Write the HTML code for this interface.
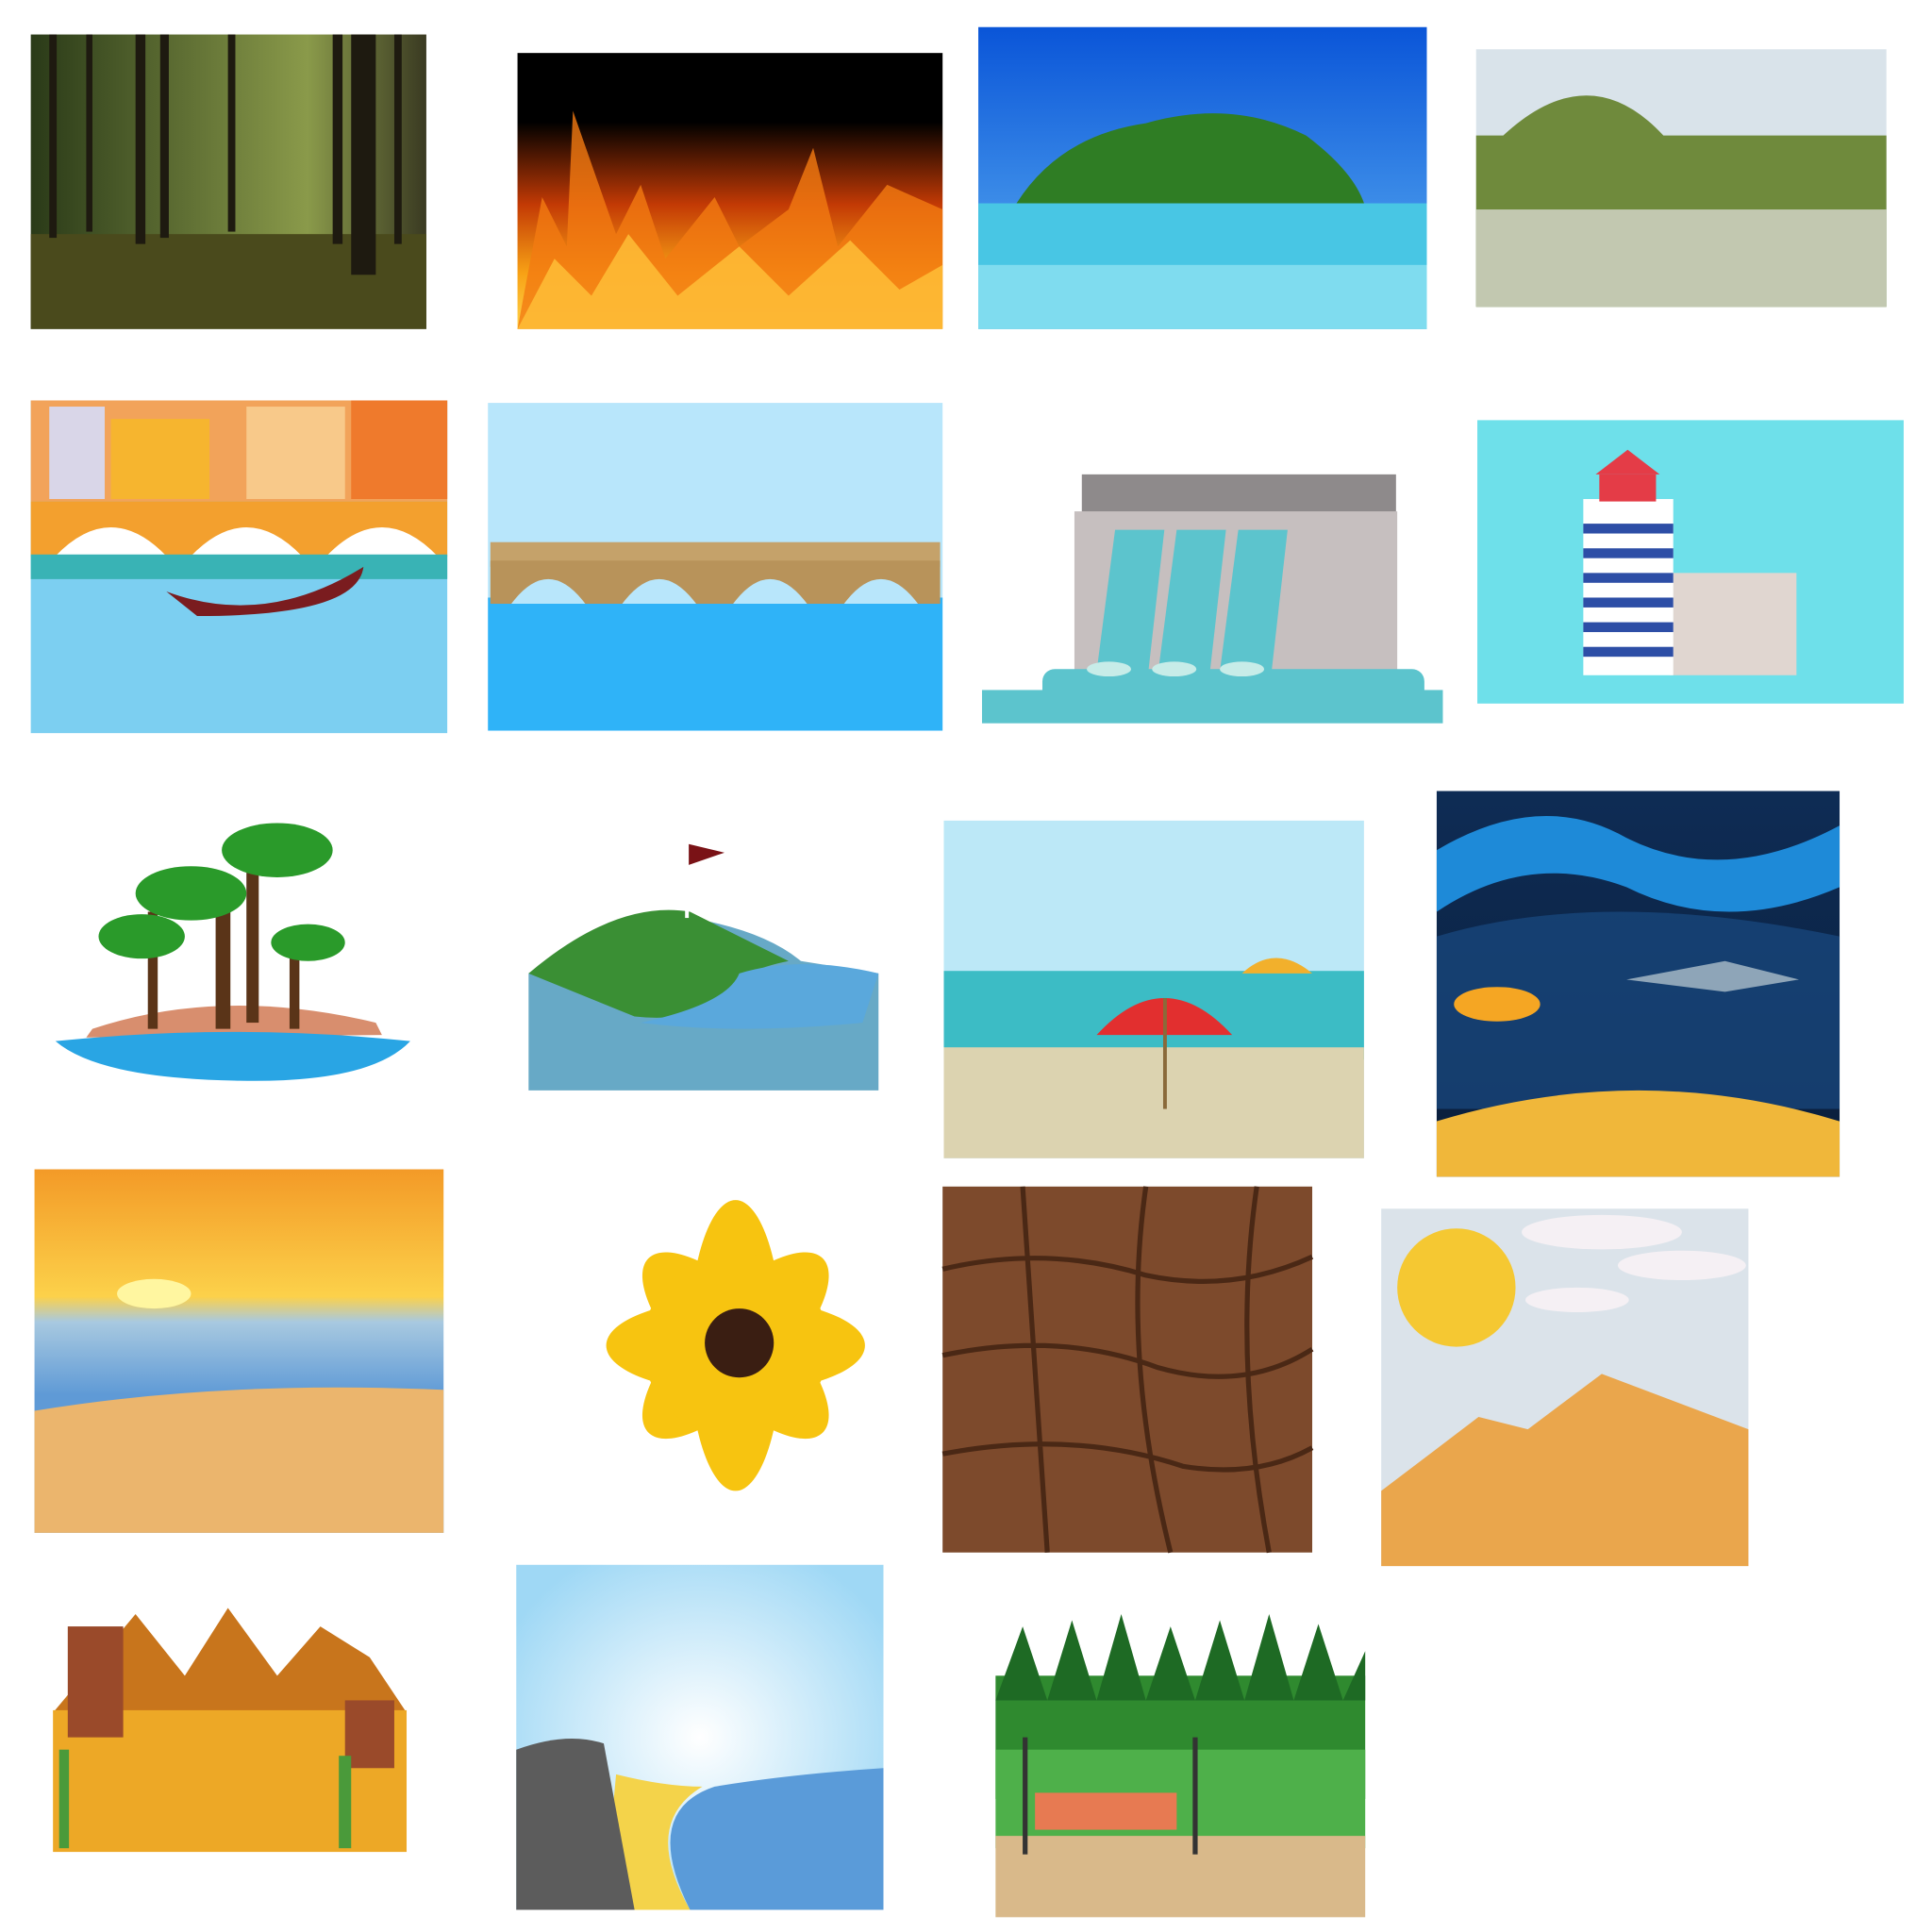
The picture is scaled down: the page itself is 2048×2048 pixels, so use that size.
<!DOCTYPE html>
<html><head><meta charset="utf-8"><style>
html,body{margin:0;padding:0;background:#fff;width:2048px;height:2048px;overflow:hidden;font-family:"Liberation Sans",sans-serif}
svg{display:block}
</style></head><body>
<svg width="2048" height="2048" viewBox="0 0 1568 1568" xmlns="http://www.w3.org/2000/svg">
<defs>
<linearGradient id="fireg" x1="0" y1="0" x2="0" y2="1"><stop offset="0.25" stop-color="#000"/><stop offset="0.55" stop-color="#c33a05"/><stop offset="0.8" stop-color="#f8a215"/><stop offset="1" stop-color="#ffd34a"/></linearGradient>
<linearGradient id="skyg" x1="0" y1="0" x2="0" y2="1"><stop offset="0" stop-color="#0a55d8"/><stop offset="1" stop-color="#5fb3f3"/></linearGradient>
<linearGradient id="forg" x1="0" y1="0" x2="1" y2="0"><stop offset="0" stop-color="#2a3a18"/><stop offset="0.7" stop-color="#8a9a4a"/><stop offset="1" stop-color="#3a3a22"/></linearGradient>
<linearGradient id="sung" x1="0" y1="0" x2="0" y2="1"><stop offset="0" stop-color="#f39a27"/><stop offset="0.35" stop-color="#fcd14a"/><stop offset="0.42" stop-color="#a8c9e0"/><stop offset="0.62" stop-color="#5f9ad6"/></linearGradient>
<radialGradient id="coastg" cx="0.5" cy="0.5" r="0.6"><stop offset="0" stop-color="#fff"/><stop offset="1" stop-color="#9fd8f5"/></radialGradient>
<linearGradient id="underg" x1="0" y1="0" x2="0" y2="1"><stop offset="0" stop-color="#0e2c55"/><stop offset="1" stop-color="#0a1e3a"/></linearGradient>
</defs>
<g>
<rect x="25" y="28" width="321" height="239" fill="url(#forg)"/>
<rect x="25" y="190" width="321" height="77" fill="#4a4a1c"/>
<g fill="#1e1a10"><rect x="40" y="28" width="6" height="165"/><rect x="70" y="28" width="5" height="160"/><rect x="110" y="28" width="8" height="170"/><rect x="130" y="28" width="7" height="165"/><rect x="185" y="28" width="6" height="160"/><rect x="270" y="28" width="8" height="170"/><rect x="285" y="28" width="20" height="195"/><rect x="320" y="28" width="6" height="170"/></g>
</g>
<g>
<rect x="420" y="43" width="345" height="224" fill="url(#fireg)"/>
<path d="M420 267 L440 160 L460 200 L465 90 L500 190 L520 150 L540 210 L580 160 L600 200 L640 170 L660 120 L680 200 L720 150 L765 170 L765 267Z" fill="#f27a12" opacity="0.8"/>
<path d="M420 267 L450 210 L480 240 L510 190 L550 240 L600 200 L640 240 L690 195 L730 235 L765 215 L765 267Z" fill="#ffc23a" opacity="0.8"/>
</g>
<g>
<rect x="794" y="22" width="364" height="245" fill="url(#skyg)"/>
<path d="M825 165 Q860 110 930 100 Q1000 80 1060 110 Q1100 140 1108 168Z" fill="#2f7d24"/>
<rect x="794" y="165" width="364" height="102" fill="#48c6e4"/>
<rect x="794" y="215" width="364" height="52" fill="#7fdcef"/>
</g>
<g>
<rect x="1198" y="40" width="333" height="209" fill="#d9e3ea"/>
<path d="M1198 110 L1220 110 Q1290 45 1350 110 L1531 110 L1531 249 L1198 249Z" fill="#6f8a3c"/>
<rect x="1198" y="170" width="333" height="79" fill="#c2c8b0"/>
</g>
<g>
<rect x="25" y="325" width="338" height="270" fill="#7ccff1"/>
<rect x="25" y="325" width="338" height="82" fill="#f2a35a"/>
<rect x="40" y="330" width="45" height="75" fill="#d9d6e8"/><rect x="90" y="340" width="80" height="65" fill="#f6b52f"/><rect x="200" y="330" width="80" height="75" fill="#f8c98a"/><rect x="285" y="325" width="78" height="80" fill="#ef7a2c"/>
<rect x="25" y="407" width="338" height="45" fill="#f3a02e"/>
<path d="M45 452 Q90 405 135 452 M155 452 Q200 405 245 452 M265 452 Q310 405 355 452" fill="#fff" stroke="#fff"/>
<rect x="25" y="450" width="338" height="20" fill="#39b3b5"/>
<path d="M135 480 Q215 510 295 460 Q290 500 160 500Z" fill="#7a1c1f"/>
</g>
<g>
<rect x="396" y="327" width="369" height="160" fill="#b8e6fb"/>
<rect x="396" y="485" width="369" height="108" fill="#2fb3f8"/>
<rect x="398" y="440" width="365" height="20" fill="#c5a26a"/>
<rect x="398" y="455" width="365" height="35" fill="#b8935a"/>
<g fill="#b8e6fb"><path d="M415 490 Q445 450 475 490Z"/><path d="M505 490 Q535 450 565 490Z"/><path d="M595 490 Q625 450 655 490Z"/><path d="M685 490 Q715 450 745 490Z"/></g>
</g>
<g>
<rect x="878" y="385" width="255" height="32" fill="#8e8a8b"/>
<rect x="872" y="415" width="262" height="130" fill="#c6bfbf"/>
<path d="M905 430 L945 430 L932 545 L890 545Z" fill="#5cc4cd"/>
<path d="M955 430 L995 430 L982 545 L940 545Z" fill="#5cc4cd"/>
<path d="M1005 430 L1045 430 L1032 545 L990 545Z" fill="#5cc4cd"/>
<rect x="846" y="543" width="310" height="30" rx="10" fill="#5cc4cd"/>
<rect x="797" y="560" width="374" height="27" fill="#5cc4cd"/>
<g fill="#c7ece8"><ellipse cx="900" cy="543" rx="18" ry="6"/><ellipse cx="953" cy="543" rx="18" ry="6"/><ellipse cx="1008" cy="543" rx="18" ry="6"/></g>
</g>
<g>
<rect x="1199" y="341" width="346" height="230" fill="#6ee0ea"/>
<rect x="1355" y="465" width="103" height="83" fill="#e0d6d0"/>
<rect x="1285" y="405" width="73" height="143" fill="#fff"/>
<g fill="#2d4ea6"><rect x="1285" y="425" width="73" height="8"/><rect x="1285" y="445" width="73" height="8"/><rect x="1285" y="465" width="73" height="8"/><rect x="1285" y="485" width="73" height="8"/><rect x="1285" y="505" width="73" height="8"/><rect x="1285" y="525" width="73" height="8"/></g>
<path d="M1295 385 L1321 365 L1347 385Z" fill="#e43c47"/>
<rect x="1298" y="385" width="46" height="22" fill="#e43c47"/>
</g>
<g>
<path d="M75 835 Q180 800 305 830 L310 840 L70 842Z" fill="#d88e6e"/>
<path d="M45 845 Q190 830 333 845 Q300 880 190 877 Q80 875 45 845Z" fill="#29a5e4"/>
<g fill="#5a3418"><rect x="120" y="740" width="8" height="95"/><rect x="175" y="710" width="12" height="125"/><rect x="200" y="700" width="10" height="130"/><rect x="235" y="755" width="8" height="80"/></g>
<g fill="#2a9a2a"><ellipse cx="115" cy="760" rx="35" ry="18"/><ellipse cx="155" cy="725" rx="45" ry="22"/><ellipse cx="225" cy="690" rx="45" ry="22"/><ellipse cx="250" cy="765" rx="30" ry="15"/></g>
</g>
<g>
<path d="M429 790 Q500 740 560 745 Q620 755 650 780 L713 790 L713 885 L429 885Z" fill="#67a9c6"/>
<path d="M429 790 Q500 730 560 740 Q600 760 640 780 Q590 790 600 810 Q560 830 515 825Z" fill="#3a8f34"/>
<path d="M600 790 Q650 775 713 790 L700 830 Q600 840 520 830 Q590 815 600 790Z" fill="#5aa8dc"/>
<rect x="556" y="685" width="3" height="60" fill="#fff"/><path d="M559 685 L588 692 L559 702Z" fill="#7a1216"/>
</g>
<g>
<rect x="766" y="666" width="341" height="274" fill="#bce8f7"/>
<rect x="766" y="788" width="341" height="72" fill="#3cbcc5"/>
<rect x="766" y="850" width="341" height="90" fill="#dcd3b0"/>
<path d="M1008 790 Q1035 765 1065 790Z" fill="#f2b02c"/>
<path d="M890 840 Q945 780 1000 840Z" fill="#e22f2f"/>
<rect x="944" y="810" width="3" height="90" fill="#8a6a3a"/>
</g>
<g>
<rect x="1166" y="642" width="327" height="313" fill="url(#underg)"/>
<path d="M1166 690 Q1250 640 1320 680 Q1400 720 1493 670 L1493 720 Q1400 760 1320 720 Q1240 690 1166 740Z" fill="#1e8ad8"/>
<path d="M1166 760 Q1300 720 1493 760 L1493 900 L1166 900Z" fill="#1a4a82" opacity="0.7"/>
<path d="M1166 910 Q1330 860 1493 910 L1493 955 L1166 955Z" fill="#f0b73a"/>
<ellipse cx="1215" cy="815" rx="35" ry="14" fill="#f5a623"/>
<path d="M1320 795 L1400 780 L1460 795 L1400 805Z" fill="#8ea5b8"/>
</g>
<g>
<rect x="28" y="949" width="332" height="295" fill="url(#sung)"/>
<ellipse cx="125" cy="1050" rx="30" ry="12" fill="#fff6a0"/>
<path d="M28 1145 Q180 1120 360 1128 L360 1244 L28 1244Z" fill="#ebb56d"/>
</g>
<g>
<g fill="#f7c410">
<ellipse cx="597" cy="1092" rx="105" ry="38"/><ellipse cx="597" cy="1092" rx="38" ry="118"/>
<ellipse cx="597" cy="1092" rx="100" ry="38" transform="rotate(45 597 1092)"/><ellipse cx="597" cy="1092" rx="100" ry="38" transform="rotate(-45 597 1092)"/>
<circle cx="597" cy="1092" r="75"/></g>
<circle cx="600" cy="1090" r="28" fill="#3a1e12"/>
</g>
<g>
<rect x="765" y="963" width="300" height="297" fill="#7d4a2c"/>
<path d="M765 1030 Q850 1010 930 1035 Q1000 1050 1065 1020 M765 1100 Q860 1080 940 1110 Q1010 1130 1065 1095 M765 1180 Q870 1160 960 1190 Q1020 1200 1065 1175 M830 963 L850 1260 M930 963 Q910 1100 950 1260 M1020 963 Q1000 1100 1030 1260" stroke="#4a2815" stroke-width="4" fill="none"/>
</g>
<g>
<rect x="1121" y="981" width="298" height="290" fill="#dbe3ea"/>
<circle cx="1182" cy="1045" r="48" fill="#f5c832"/>
<g fill="#f5f0f4"><ellipse cx="1300" cy="1000" rx="65" ry="14"/><ellipse cx="1365" cy="1027" rx="52" ry="12"/><ellipse cx="1280" cy="1055" rx="42" ry="10"/></g>
<path d="M1121 1210 L1200 1150 L1240 1160 L1300 1115 L1419 1160 L1419 1271 L1121 1271Z" fill="#eaa64c"/>
</g>
<g>
<path d="M43 1390 L110 1310 L150 1360 L185 1305 L225 1360 L260 1320 L300 1345 L330 1390Z" fill="#c8751c"/>
<rect x="43" y="1388" width="287" height="115" fill="#eda826"/>
<rect x="55" y="1320" width="45" height="90" fill="#9a4a2a"/><rect x="280" y="1380" width="40" height="55" fill="#9a4a2a"/>
<rect x="48" y="1420" width="8" height="80" fill="#4a9a3a"/><rect x="275" y="1425" width="10" height="75" fill="#4a9a3a"/>
</g>
<g>
<rect x="419" y="1270" width="298" height="280" fill="url(#coastg)"/>
<path d="M560 1550 Q520 1470 580 1450 Q640 1440 717 1435 L717 1550Z" fill="#5a9bd9"/>
<path d="M490 1550 L500 1440 Q540 1450 570 1450 Q520 1480 560 1550Z" fill="#f4d34a"/>
<path d="M419 1420 Q460 1405 490 1415 L515 1550 L419 1550Z" fill="#5c5c5c"/>
</g>
<g>
<rect x="808" y="1360" width="300" height="100" fill="#2f8a2f"/>
<path d="M808 1380 L830 1320 L850 1380 L870 1315 L890 1380 L910 1310 L930 1380 L950 1320 L970 1380 L990 1315 L1010 1380 L1030 1310 L1050 1380 L1070 1318 L1090 1380 L1108 1340 L1108 1380Z" fill="#1e6a24"/>
<rect x="808" y="1420" width="300" height="80" fill="#4eb04a"/>
<rect x="808" y="1490" width="300" height="66" fill="#d9b98a"/>
<rect x="840" y="1455" width="115" height="30" fill="#e77a52"/>
<rect x="830" y="1410" width="4" height="95" fill="#333"/><rect x="968" y="1410" width="4" height="95" fill="#333"/>
</g>
</svg>
</body></html>
